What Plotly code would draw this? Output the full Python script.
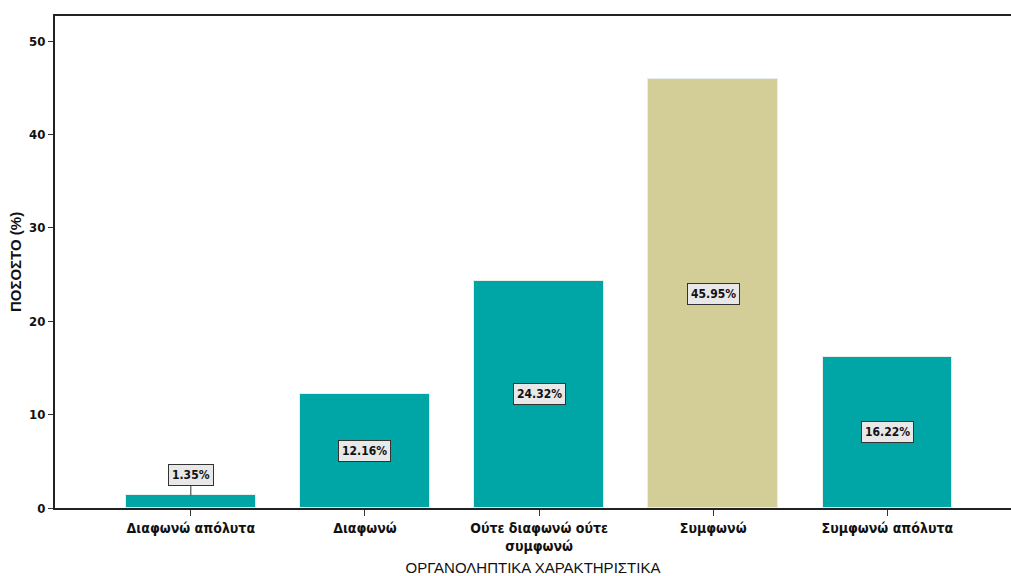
import plotly.graph_objects as go

categories = ["Διαφωνώ απόλυτα", "Διαφωνώ", "Ούτε διαφωνώ ούτε<br>συμφωνώ", "Συμφωνώ", "Συμφωνώ απόλυτα"]
percentages = [1.35, 12.16, 24.32, 45.95, 16.22]
bar_colors = ["#00A6A6", "#00A6A6", "#00A6A6", "#D3CE97", "#00A6A6"]
y_ticks = [0, 10, 20, 30, 40, 50]

FONT = "Liberation Sans Narrow, Arial Narrow, DejaVu Sans Condensed, Liberation Sans, sans-serif"

x_idx = list(range(len(categories)))

fig = go.Figure()
fig.add_trace(go.Bar(
    x=x_idx,
    y=percentages,
    width=0.745,
    marker=dict(color=bar_colors, line=dict(color="#E6EFE8", width=1)),
    hoverinfo="skip",
))

annotations = []
for i, v in zip(x_idx, percentages):
    label = f"<b>{v:.2f}%</b>"
    common = dict(
        text=label, xref="x", yref="y",
        font=dict(family=FONT, size=12, color="#111111"),
        bgcolor="#E8E8E8", bordercolor="#333333", borderwidth=1, borderpad=3,
    )
    if v < 5:
        # small bar: label sits above with a leader line to the bar top
        annotations.append(dict(
            x=i, y=v, ax=i, ay=3.5, axref="x", ayref="y",
            showarrow=True, arrowhead=0, arrowwidth=1, arrowcolor="#333333",
            **common,
        ))
    else:
        annotations.append(dict(x=i, y=v / 2, showarrow=False, **common))

fig.update_layout(
    width=1011, height=576,
    margin=dict(l=55, r=0, t=16, b=68),
    plot_bgcolor="white", paper_bgcolor="white",
    showlegend=False,
    bargap=0,
    annotations=annotations,
    font=dict(family=FONT, color="#111111"),
    xaxis=dict(
        range=[-0.78, 4.71],
        tickmode="array", tickvals=x_idx,
        ticktext=[f"<b>{c}</b>" for c in categories],
        ticks="outside", ticklen=6, tickcolor="#333333", tickwidth=1,
        tickfont=dict(family=FONT, size=14, color="#111111"),
        showline=True, linecolor="#222222", linewidth=2, mirror=True,
        showgrid=False, zeroline=False,
        title=dict(text="ΟΡΓΑΝΟΛΗΠΤΙΚΑ ΧΑΡΑΚΤΗΡΙΣΤΙΚΑ",
                   font=dict(family="Liberation Sans, Arial, sans-serif", size=15, color="#111111"),
                   standoff=10),
    ),
    yaxis=dict(
        range=[0, 52.7],
        tickmode="array", tickvals=y_ticks,
        ticktext=[f"<b>{t}</b>" for t in y_ticks],
        ticks="outside", ticklen=5, tickcolor="#333333", tickwidth=1,
        tickfont=dict(family=FONT, size=13, color="#111111"),
        showline=True, linecolor="#222222", linewidth=2, mirror=False,
        showgrid=False, zeroline=False,
        title=dict(text="<b>ΠΟΣΟΣΤΟ (%)</b>",
                   font=dict(family="Liberation Sans, Arial, sans-serif", size=15, color="#111111"),
                   standoff=4),
    ),
)

fig.write_html("out.html")
